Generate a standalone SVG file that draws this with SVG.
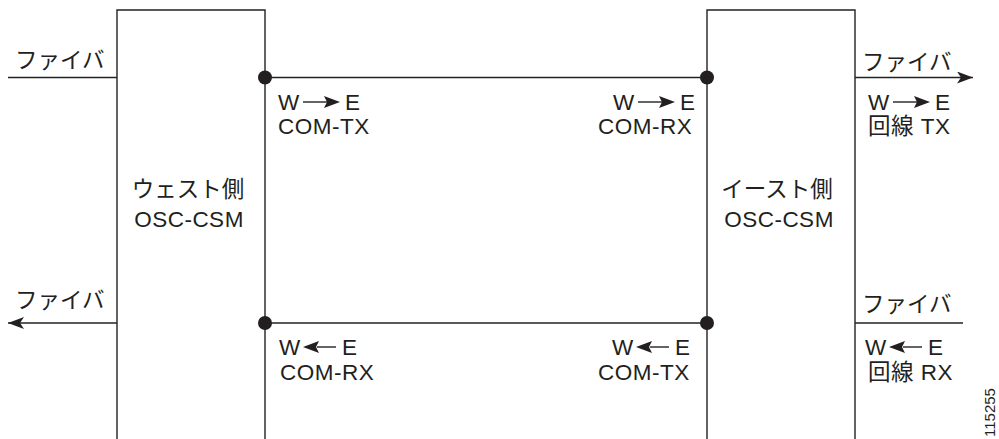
<svg xmlns="http://www.w3.org/2000/svg" width="999" height="439" viewBox="0 0 999 439">
<style>
.ln{stroke:#222;stroke-width:1.4;fill:none}
.t{font-family:"Liberation Sans","Noto Sans CJK JP",sans-serif;font-size:22.5px;fill:#231f20;letter-spacing:0.5px}
.j{letter-spacing:0}
.n{font-family:"Liberation Sans",sans-serif;font-size:15px;fill:#231f20}
.dot{fill:#231f20}
.ah{fill:#231f20}
</style>
<defs>
<marker id="arr" viewBox="0 0 16 12" refX="16" refY="6" markerWidth="16" markerHeight="12" markerUnits="userSpaceOnUse" orient="auto">
<path d="M0,0 L16,6 L0,12 L4,6 Z" fill="#231f20"/>
</marker>
<g id="we">
<text class="t j" x="0" y="0">W</text>
<line x1="25" y1="-8" x2="50" y2="-8" class="ln"/>
<path d="M46,-14 L62,-8 L46,-2 L49,-8 Z" class="ah"/>
<text class="t j" x="67" y="0">E</text>
</g>
<g id="ew">
<text class="t j" x="0" y="0">W</text>
<path d="M24,-8 L40,-14 L37,-8 L40,-2 Z" class="ah"/>
<line x1="38" y1="-8" x2="57" y2="-8" class="ln"/>
<text class="t j" x="63" y="0">E</text>
</g>
</defs>

<g id="west">
<path d="M117,439 V10 H265 V439" class="ln"/>
<text class="t j" x="188" y="197" text-anchor="middle">ウェスト側</text>
<text class="t" x="189" y="227" text-anchor="middle">OSC-CSM</text>
</g>

<g id="east">
<path d="M707,439 V10 H855 V439" class="ln"/>
<text class="t j" x="777" y="197" text-anchor="middle">イースト側</text>
<text class="t" x="779" y="227" text-anchor="middle">OSC-CSM</text>
</g>

<g id="connectors">
<line x1="8" y1="77.5" x2="117" y2="77.5" class="ln"/>
<line x1="265" y1="77.5" x2="707" y2="77.5" class="ln"/>
<line x1="855" y1="77.5" x2="973" y2="77.5" class="ln" marker-end="url(#arr)"/>
<line x1="117" y1="323" x2="8" y2="323" class="ln" marker-end="url(#arr)"/>
<line x1="265" y1="323" x2="707" y2="323" class="ln"/>
<line x1="855" y1="323" x2="963" y2="323" class="ln"/>
<circle cx="265" cy="77.5" r="7" class="dot"/>
<circle cx="707" cy="77.5" r="7" class="dot"/>
<circle cx="265" cy="323" r="7" class="dot"/>
<circle cx="707" cy="323" r="7" class="dot"/>
</g>

<g id="labels">
<text class="t j" x="15" y="68">ファイバ</text>
<text class="t j" x="862" y="70">ファイバ</text>
<text class="t j" x="15" y="308">ファイバ</text>
<text class="t j" x="862" y="312">ファイバ</text>

<use href="#we" x="278" y="110"/>
<text class="t" x="278" y="134">COM-TX</text>
<use href="#we" x="613" y="110"/>
<text class="t" x="598" y="134">COM-RX</text>
<use href="#we" x="868" y="110"/>
<text class="t" x="868" y="134">回線 TX</text>

<use href="#ew" x="279" y="355"/>
<text class="t" x="280" y="380">COM-RX</text>
<use href="#ew" x="612" y="355"/>
<text class="t" x="598" y="380">COM-TX</text>
<use href="#ew" x="865" y="355"/>
<text class="t" x="868" y="380">回線 RX</text>

<text class="n" transform="translate(995,437) rotate(-90)">115255</text>
</g>
</svg>
